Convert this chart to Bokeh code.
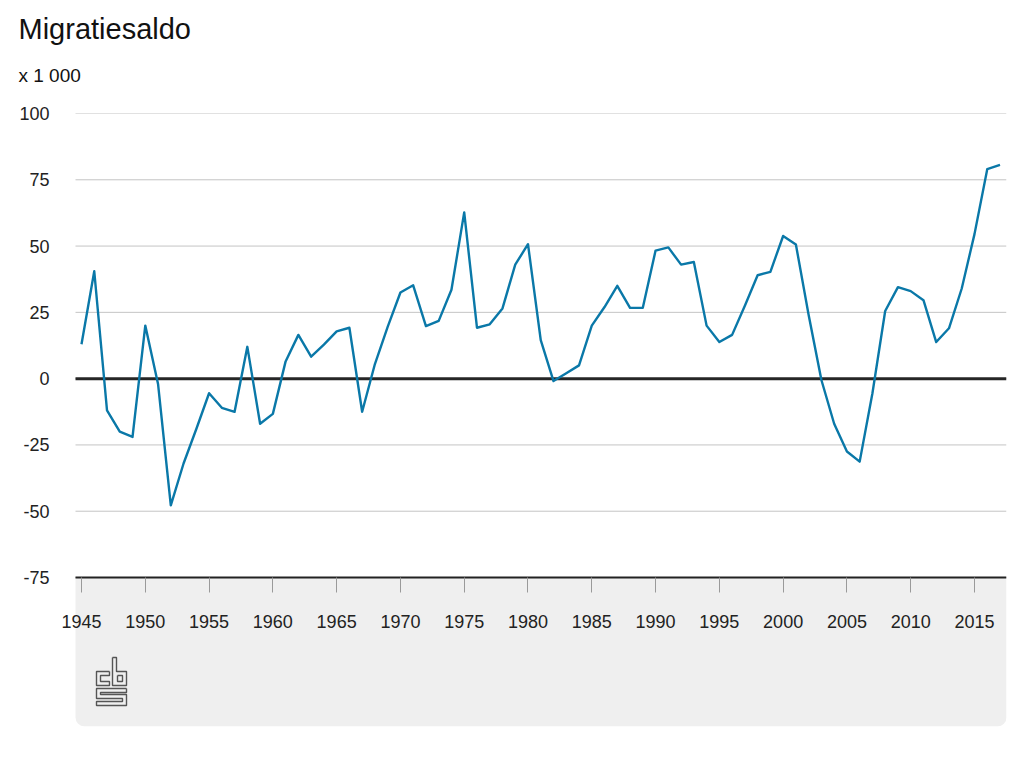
from bokeh.plotting import figure
from bokeh.models import (FixedTicker, BoxAnnotation, Title, ColumnDataSource, Range1d)
from bokeh.embed import file_html
from bokeh.resources import INLINE

# ---------------- data ----------------
years = list(range(1945, 2018))
saldo = [13, 40.5, -12, -20, -22, 20, -2, -47.8, -32, -19,
         -5.5, -11, -12.5, 12, -17, -13.3, 6.5, 16.5, 8.3, 12.8,
         17.8, 19.2, -12.5, 5.5, 19.5, 32.5, 35.2, 19.8, 21.8, 33.5,
         62.7, 19.2, 20.5, 26.5, 43, 50.7, 14.5, -0.9, 2, 5,
         20, 27, 35, 26.7, 26.7, 48.3, 49.5, 43, 44, 20,
         13.8, 16.5, 27.5, 39, 40.3, 53.8, 50.6, 24, -0.5, -17,
         -27.5, -31.3, -5.5, 25.5, 34.5, 33, 29.6, 13.8, 19, 34,
         54.5, 79, 80.6]
x_ticks = [1945, 1950, 1955, 1960, 1965, 1970, 1975, 1980, 1985, 1990,
           1995, 2000, 2005, 2010, 2015]
x_tick_labels = [str(t) for t in x_ticks]
y_ticks = [-75, -50, -25, 0, 25, 50, 75, 100]
y_tick_labels = ["-75", "-50", "-25", "0", "25", "50", "75", "100"]
baseline = 0
title_text = "Migratiesaldo"
unit_text = "x 1 000"

# ---------------- layout constants ----------------
FONT = "Liberation Sans"
FRAME_LEFT = 52          # px
PANEL_LEFT = 75          # px, where grid / grey panel start
FRAME_RIGHT = 1006
FRAME_TOP = 113
FRAME_BOTTOM = 726
PX_PER_YEAR = 12.757
PX_PER_UNIT = 2.6514
FIRST_TICK_PX = 81
X_START = 1945 - (FIRST_TICK_PX - FRAME_LEFT) / PX_PER_YEAR
X_END = 1945 + (FRAME_RIGHT - FIRST_TICK_PX) / PX_PER_YEAR
X_PANEL = 1945 - (FIRST_TICK_PX - PANEL_LEFT) / PX_PER_YEAR
Y_TOP = 100
Y_BOTTOM = Y_TOP - (FRAME_BOTTOM - FRAME_TOP) / PX_PER_UNIT

p = figure(width=1016, height=730, output_backend="svg", toolbar_location=None,
           x_range=Range1d(X_START, X_END), y_range=Range1d(Y_BOTTOM, Y_TOP),
           min_border_left=FRAME_LEFT, min_border_right=1016 - FRAME_RIGHT,
           min_border_bottom=730 - FRAME_BOTTOM, min_border_top=FRAME_TOP)
p.outline_line_color = None
p.background_fill_color = "white"
p.border_fill_color = "white"

# titles
p.title.text = title_text
p.title.text_font = FONT
p.title.text_font_size = "29px"
p.title.text_font_style = "normal"
p.title.text_color = "#111111"
p.title.align = "left"
p.title.offset = 18 - FRAME_LEFT
try:
    p.title.standoff = -19
except Exception:
    p.title.standoff = 0
sub = Title(text=unit_text, align="left", offset=18 - FRAME_LEFT, text_font=FONT,
            text_font_size="19px", text_font_style="normal", text_color="#111111",
            standoff=55)
p.add_layout(sub, "above")

# grey footer panel
footer = BoxAnnotation(top=-75, bottom=Y_BOTTOM, left=X_PANEL, right=X_END,
                       fill_color="#efefef", fill_alpha=1, line_color=None,
                       border_radius=(0, 0, 9, 9), level="underlay")
p.add_layout(footer)

# horizontal grid lines (start at the panel edge, not at the frame edge)
p.xgrid.visible = False
p.ygrid.visible = False
p.segment(x0=[X_PANEL] * len(y_ticks), x1=[X_END] * len(y_ticks), y0=y_ticks, y1=y_ticks,
          line_color="#c4c4c4", line_width=1, level="underlay")
# zero line
p.segment(x0=[X_PANEL], x1=[X_END], y0=[baseline], y1=[baseline],
          line_color="#262626", line_width=3, level="underlay")

# y axis
p.yaxis.ticker = FixedTicker(ticks=y_ticks)
p.yaxis.major_label_overrides = {t: l for t, l in zip(y_ticks, y_tick_labels)}
p.yaxis.axis_line_color = None
p.yaxis.major_tick_line_color = None
p.yaxis.minor_tick_line_color = None
p.yaxis.major_tick_out = 0
p.yaxis.major_tick_in = 0
p.yaxis.major_label_standoff = FRAME_LEFT - 49
p.yaxis.major_label_text_font = FONT
p.yaxis.major_label_text_font_size = "18px"
p.yaxis.major_label_text_color = "#222222"

# x axis at -75
p.xaxis.fixed_location = -75
p.xaxis.bounds = (X_PANEL, X_END)
p.xaxis.ticker = FixedTicker(ticks=x_ticks)
p.xaxis.major_label_overrides = {t: l for t, l in zip(x_ticks, x_tick_labels)}
p.xaxis.axis_line_color = "#222222"
p.xaxis.axis_line_width = 2
p.xaxis.major_tick_line_color = "#9a9a9a"
p.xaxis.major_tick_line_width = 1
p.xaxis.major_tick_out = 15
p.xaxis.major_tick_in = 0
p.xaxis.minor_tick_line_color = None
p.xaxis.major_label_standoff = 23
p.xaxis.major_label_text_font = FONT
p.xaxis.major_label_text_font_size = "18px"
p.xaxis.major_label_text_color = "#222222"

# data line
src = ColumnDataSource(dict(x=years, y=saldo))
p.line("x", "y", source=src, line_color="#0a78a8", line_width=2.4, line_join="round")

# CBS logo (decoration), drawn in pixel offsets from its anchor
LOGO_X, LOGO_Y = 96 - FRAME_LEFT, 657 - FRAME_TOP  # px from frame top-left
logo_paths_px = [
    # c
    [(13, 14), (0, 14), (0, 28), (13, 28), (13, 24), (4, 24), (4, 18), (13, 18), (13, 14)],
    # b
    [(16, 0), (20, 0), (20, 14), (30, 14), (30, 28), (16, 28), (16, 0)],
    [(21, 18), (26, 18), (26, 24), (21, 24), (21, 18)],
    # s
    [(30, 31), (0, 31), (0, 41), (26, 41), (26, 44), (0, 44), (0, 48), (30, 48),
     (30, 37), (4, 37), (4, 35), (30, 35), (30, 31)],
]
lxs = [[X_START + (LOGO_X + a) / PX_PER_YEAR for a, b in path] for path in logo_paths_px]
lys = [[Y_TOP - (LOGO_Y + b) / PX_PER_UNIT for a, b in path] for path in logo_paths_px]
p.multi_line(lxs, lys, line_color="#555555", line_width=1.4)

open("out.html", "w").write(file_html(p, INLINE))
